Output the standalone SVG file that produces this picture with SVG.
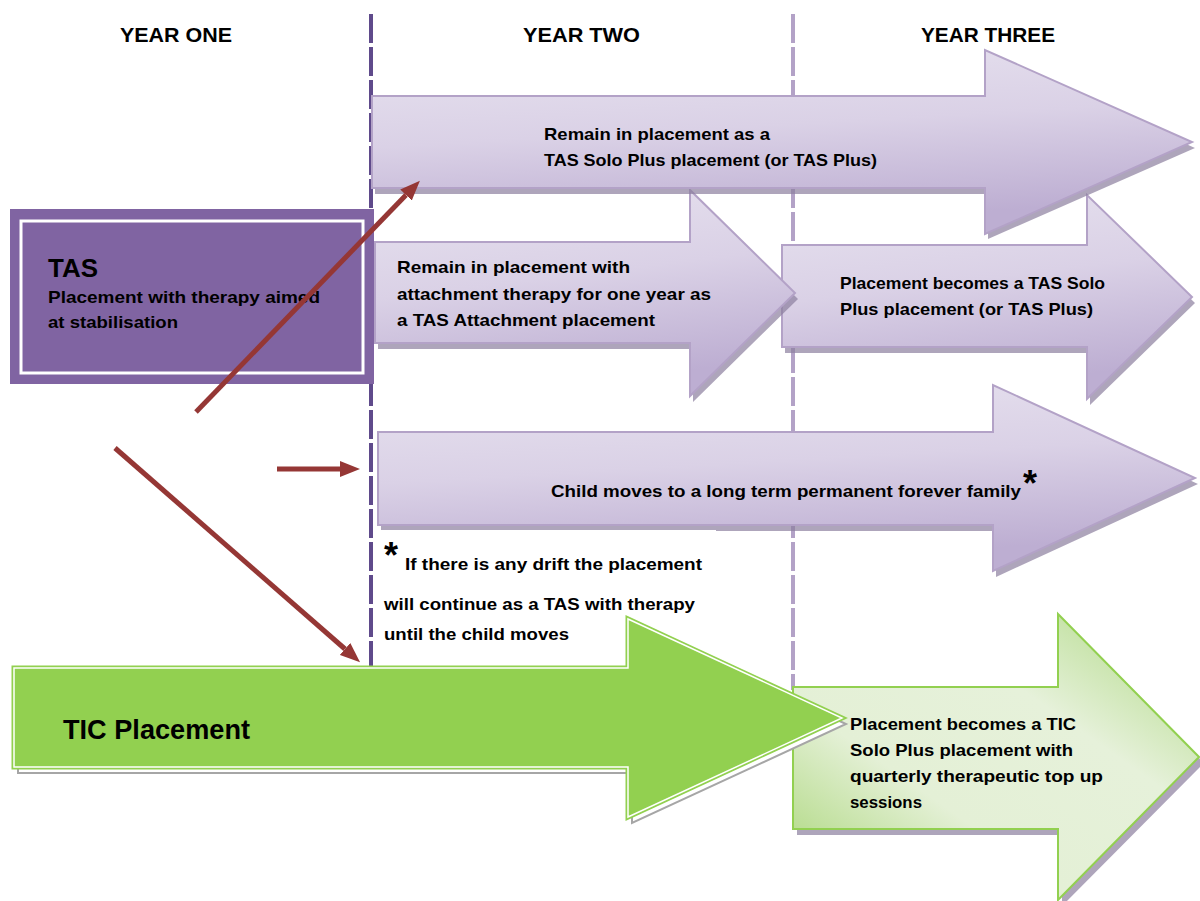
<svg xmlns="http://www.w3.org/2000/svg" width="1200" height="901" viewBox="0 0 1200 901">
<style>
text{font-family:"Liberation Sans",Arial,sans-serif;font-weight:bold;fill:#000}
.hdr{font-size:21px}
.t{font-size:17px}
.p-arrow{stroke:#b3a2c7;stroke-width:2;fill:url(#pgrad)}
.p-shadow{fill:#8c7f9e;opacity:0.7}
.div1{stroke:#5f4a8b;stroke-width:4;stroke-dasharray:29 4}
.div2{stroke:#b3a2c7;stroke-width:4;stroke-dasharray:29 4}
.conn{stroke:#953735;stroke-width:5;fill:none;marker-end:url(#ah)}
</style>
<defs>
<linearGradient id="pgrad" x1="0" y1="0" x2="0.25" y2="1">
<stop offset="0" stop-color="#e7e2ef"/>
<stop offset="0.5" stop-color="#dad1e6"/>
<stop offset="1" stop-color="#bdaed2"/>
</linearGradient>
<linearGradient id="ggrad" x1="0" y1="1" x2="1" y2="0">
<stop offset="0" stop-color="#a3d36e"/>
<stop offset="0.35" stop-color="#e4f0d6"/>
<stop offset="0.65" stop-color="#e6f1da"/>
<stop offset="1" stop-color="#a9d67a"/>
</linearGradient>
<marker id="ah" markerUnits="userSpaceOnUse" markerWidth="20" markerHeight="16" refX="0" refY="8" orient="auto" viewBox="0 0 20 16">
<path d="M0,0 L20,8 L0,16 z" fill="#953735"/>
</marker>
</defs>
<rect width="1200" height="901" fill="#fff"/>

<g id="headers">
<text class="hdr" x="120" y="42" textLength="112" lengthAdjust="spacingAndGlyphs">YEAR ONE</text>
<text class="hdr" x="523" y="42" textLength="117" lengthAdjust="spacingAndGlyphs">YEAR TWO</text>
<text class="hdr" x="921" y="42" textLength="134" lengthAdjust="spacingAndGlyphs">YEAR THREE</text>
</g>

<g id="dividers">
<line class="div1" x1="371" y1="14" x2="371" y2="670"/>
<line class="div2" x1="793" y1="14" x2="793" y2="690"/>
</g>

<g id="tas">
<rect x="10" y="209" width="364" height="175" fill="#8064a2"/>
<rect x="21" y="221" width="342" height="152" fill="none" stroke="#fff" stroke-width="3"/>
<text x="48" y="277" font-size="25" textLength="50" lengthAdjust="spacingAndGlyphs">TAS</text>
<text class="t" x="48" y="303" textLength="272" lengthAdjust="spacingAndGlyphs">Placement with therapy aimed</text>
<text class="t" x="48" y="328" textLength="130" lengthAdjust="spacingAndGlyphs">at stabilisation</text>
</g>

<g id="year3-tas">
<polygon class="p-shadow" points="785,251 1090,251 1090,201 1195,303 1090,405 1090,353 785,353"/>
<polygon class="p-arrow" points="782,245 1087,245 1087,195 1192,297 1087,399 1087,347 782,347"/>
<text class="t" x="840" y="289" textLength="265" lengthAdjust="spacingAndGlyphs">Placement becomes a TAS Solo</text>
<text class="t" x="840" y="315" textLength="253" lengthAdjust="spacingAndGlyphs">Plus placement (or TAS Plus)</text>
</g>

<g id="attachment">
<polygon class="p-shadow" points="378,248 693,248 693,196 798,299 693,402 693,349 378,349"/>
<polygon class="p-arrow" points="375,242 690,242 690,190 795,293 690,396 690,343 375,343"/>
<text class="t" x="397" y="273" textLength="233" lengthAdjust="spacingAndGlyphs">Remain in placement with</text>
<text class="t" x="397" y="300" textLength="314" lengthAdjust="spacingAndGlyphs">attachment therapy for one year as</text>
<text class="t" x="397" y="326" textLength="258" lengthAdjust="spacingAndGlyphs">a TAS Attachment placement</text>
</g>

<g id="solo-plus">
<polygon class="p-shadow" points="375,102 988,102 988,56 1195,148 988,239 988,194 375,194"/>
<polygon class="p-arrow" points="372,96 985,96 985,50 1192,142 985,234 985,188 372,188"/>
<text class="t" x="544" y="140" textLength="226" lengthAdjust="spacingAndGlyphs">Remain in placement as a</text>
<text class="t" x="544" y="166" textLength="333" lengthAdjust="spacingAndGlyphs">TAS Solo Plus placement (or TAS Plus)</text>
</g>

<g id="forever-family">
<polygon class="p-shadow" points="381,438 996,438 996,391 1198,484 996,577 996,531 381,531"/>
<polygon class="p-arrow" points="378,432 993,432 993,385 1195,478 993,571 993,525 378,525"/>
<text class="t" x="551" y="497" textLength="470" lengthAdjust="spacingAndGlyphs">Child moves to a long term permanent forever family</text>
<text x="1023" y="496" font-size="36">*</text>
</g>

<g id="footnote">
<rect x="376" y="530" width="340" height="120" fill="#fff"/>
<text x="384" y="568" font-size="36">*</text>
<text class="t" x="405" y="570" textLength="297" lengthAdjust="spacingAndGlyphs">If there is any drift the placement</text>
<text class="t" x="384" y="610" textLength="311" lengthAdjust="spacingAndGlyphs">will continue as a TAS with therapy</text>
<text class="t" x="384" y="640" textLength="185" lengthAdjust="spacingAndGlyphs">until the child moves</text>
</g>

<g id="tic-solo-plus">
<polygon points="797,693 1062,693 1062,620 1204,763 1062,906 1062,835 797,835" fill="#8c7f9e" opacity="0.7"/>
<polygon points="793,687 1058,687 1058,614 1199,757 1058,900 1058,829 793,829" fill="url(#ggrad)" stroke="#92d050" stroke-width="2"/>
<text class="t" x="850" y="730" textLength="226" lengthAdjust="spacingAndGlyphs">Placement becomes a TIC</text>
<text class="t" x="850" y="756" textLength="223" lengthAdjust="spacingAndGlyphs">Solo Plus placement with</text>
<text class="t" x="850" y="782" textLength="253" lengthAdjust="spacingAndGlyphs">quarterly therapeutic top up</text>
<text class="t" x="850" y="808" textLength="72" lengthAdjust="spacingAndGlyphs">sessions</text>
</g>

<g id="tic">
<polygon points="18,673 632,673 632,625 846,724 632,823 632,773 18,773" fill="#fff" stroke="#a6a6a6" stroke-width="2"/>
<polygon points="14,668 628,668 628,619 842,718 628,817 628,767 14,767" fill="#92d050" stroke="#92d050" stroke-width="5"/>
<polygon points="14,668 628,668 628,619 842,718 628,817 628,767 14,767" fill="none" stroke="#fff" stroke-width="1.5"/>
<text x="63" y="739" font-size="28" textLength="187" lengthAdjust="spacingAndGlyphs">TIC Placement</text>
</g>

<g id="connectors">
<line class="conn" x1="196" y1="412" x2="406" y2="195"/>
<line class="conn" x1="115" y1="448" x2="345" y2="649"/>
<line class="conn" x1="277" y1="469" x2="340" y2="469"/>
</g>
</svg>
